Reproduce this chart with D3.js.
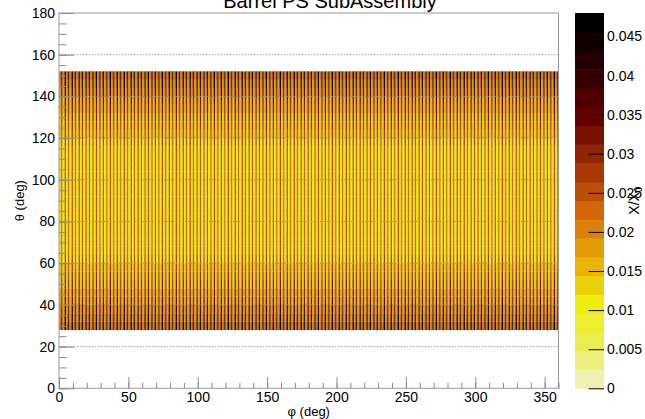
<!DOCTYPE html>
<html>
<head>
<meta charset="utf-8">
<script src="https://cdn.jsdelivr.net/npm/d3@7"></script>
<style>
  html, body { margin: 0; padding: 0; background: #fff; }
  svg { display: block; font-family: "Liberation Sans", Arial, Helvetica, sans-serif; }
</style>
</head>
<body>
<svg id="chart" width="645" height="419"></svg>
<script>
// Material budget X/X0 of the barrel PS sub-assembly versus phi and theta.

// Phi binning: 144 identical modules of 2.5 deg, three bins per module.
const phiModules = 144;
const phiModuleWidth = 2.5;
// X/X0 at theta = 90 deg across one module (three bins).
const stripeProfile = [0.0104, 0.0128, 0.0240];

// Theta binning: 4 deg bins covering 28..152 deg.
const thetaStart = 28;
const thetaBinWidth = 4;
// Path-length scale per theta bin (bin centres 30, 34, ..., 150).
const thetaScale = [
  2.00, 1.80, 1.62, 1.49, 1.39, 1.30, 1.23, 1.17, 1.12, 1.09, 1.06, 1.04, 1.02, 1.01, 1.00, 1.00,
  1.00, 1.01, 1.02, 1.04, 1.06, 1.09, 1.12, 1.17, 1.23, 1.30, 1.39, 1.49, 1.62, 1.80, 2.00
];

// Axis ticks and labels.
const xMajor = [0, 50, 100, 150, 200, 250, 300, 350];
const yMajor = [0, 20, 40, 60, 80, 100, 120, 140, 160, 180];
const yGrid = [20, 40, 60, 80, 100, 120, 140, 160];
const zTicks = [0, 0.005, 0.01, 0.015, 0.02, 0.025, 0.03, 0.035, 0.04, 0.045];
const zTickLabels = ["0", "0.005", "0.01", "0.015", "0.02", "0.025", "0.03", "0.035", "0.04", "0.045"];
const nContours = 20;

// Inverted dark-body-radiator palette stops.
const palStops = [0, 0.125, 0.25, 0.375, 0.5, 0.625, 0.75, 0.875, 1];
const palRed   = [242, 234, 237, 230, 212, 156, 99, 45, 0];
const palGreen = [243, 238, 238, 168, 101, 45, 0, 0, 0];
const palBlue  = [230, 95, 11, 8, 9, 3, 1, 1, 0];

const svg = d3.select("#chart");

const x = d3.scaleLinear().domain([0, 360]).range([59, 558.5]);
const y = d3.scaleLinear().domain([0, 180]).range([388.3, 13]);

// Build the bin table.
const phiBinWidth = phiModuleWidth / stripeProfile.length;
const cells = [];
const nPhi = phiModules * stripeProfile.length;
for (let j = 0; j < thetaScale.length; j++) {
  for (let i = 0; i < nPhi; i++) {
    cells.push({
      phi0: i * phiBinWidth,
      theta0: thetaStart + j * thetaBinWidth,
      v: stripeProfile[i % stripeProfile.length] * thetaScale[j]
    });
  }
}
const zMax = d3.max(cells, d => d.v);

const pal = d3.scaleLinear()
  .domain(palStops)
  .range(palStops.map((s, k) => d3.rgb(palRed[k], palGreen[k], palBlue[k])))
  .interpolate(d3.interpolateRgb);
const nColors = 255;
function bandColor(k) {
  const idx = Math.floor((k + 0.99) * nColors / nContours);
  return pal(Math.min(idx, nColors - 1) / (nColors - 1));
}
const band = d3.scaleQuantize().domain([0, zMax]).range(d3.range(nContours));

// Histogram cells (slight overlap hides antialiasing seams).
svg.append("g")
  .selectAll("rect")
  .data(cells)
  .join("rect")
  .attr("x", d => x(d.phi0))
  .attr("y", d => y(d.theta0 + thetaBinWidth))
  .attr("width", d => x(d.phi0 + phiBinWidth) - x(d.phi0) + 0.15)
  .attr("height", d => y(d.theta0) - y(d.theta0 + thetaBinWidth) + 0.15)
  .attr("fill", d => bandColor(band(d.v)));

// Horizontal grid lines.
svg.append("g")
  .selectAll("line")
  .data(yGrid)
  .join("line")
  .attr("x1", x(0)).attr("x2", x(360))
  .attr("y1", d => y(d)).attr("y2", d => y(d))
  .attr("stroke", "#8a8a8a")
  .attr("stroke-width", 1)
  .attr("stroke-dasharray", "1.5,1.5")
  .attr("opacity", 0.8);

// Frame.
svg.append("rect")
  .attr("x", x(0)).attr("y", y(180))
  .attr("width", x(360) - x(0)).attr("height", y(0) - y(180))
  .attr("fill", "none").attr("stroke", "#9a9a9a").attr("stroke-width", 1);

const tickColor = "#8c8c8c";
function styleAxis(g) {
  g.select(".domain").remove();
  g.selectAll(".tick line").attr("stroke", tickColor);
  g.selectAll(".tick text").attr("fill", "#000").style("font-size", "14px")
    .style("font-family", "'Liberation Sans', Arial, sans-serif");
}

// X axis.
svg.append("g").attr("transform", `translate(0,${y(0)})`)
  .call(d3.axisBottom(x).tickValues(d3.range(0, 361, 10)).tickSize(-5.6).tickFormat(""))
  .call(styleAxis);
svg.append("g").attr("transform", `translate(0,${y(0)})`)
  .call(d3.axisBottom(x).tickValues(xMajor).tickSize(-11.2).tickPadding(4).tickFormat(d3.format("d")))
  .call(styleAxis);

// Y axis.
svg.append("g").attr("transform", `translate(${x(0)},0)`)
  .call(d3.axisLeft(y).tickValues(d3.range(0, 181, 5)).tickSize(-7.5).tickFormat(""))
  .call(styleAxis);
svg.append("g").attr("transform", `translate(${x(0)},0)`)
  .call(d3.axisLeft(y).tickValues(yMajor).tickSize(-15).tickPadding(4).tickFormat(d3.format("d")))
  .call(styleAxis);

// Axis titles.
svg.append("text")
  .attr("x", (x(0) + x(360)) / 2).attr("y", 416)
  .attr("text-anchor", "middle").style("font-size", "13px")
  .text("φ (deg)");
svg.append("text")
  .attr("transform", `translate(24,${(y(0) + y(180)) / 2}) rotate(-90)`)
  .attr("text-anchor", "middle").style("font-size", "13px")
  .text("θ (deg)");

// Title.
svg.append("text")
  .attr("x", 330).attr("y", 8)
  .attr("text-anchor", "middle").style("font-size", "20px")
  .text("Barrel PS SubAssembly");

// Colour bar.
const zx0 = 575, zx1 = 604;
const z = d3.scaleLinear().domain([0, zMax]).range([388.3, 13]);
const bandEdges = d3.range(nContours + 1).map(k => k * zMax / nContours);
svg.append("g")
  .selectAll("rect")
  .data(d3.range(nContours))
  .join("rect")
  .attr("x", zx0).attr("width", zx1 - zx0)
  .attr("y", k => z(bandEdges[k + 1]))
  .attr("height", k => z(bandEdges[k]) - z(bandEdges[k + 1]) + 0.5)
  .attr("fill", k => bandColor(k));

const zAxis = svg.append("g").attr("transform", `translate(${zx1},0)`)
  .call(d3.axisRight(z).tickValues(zTicks).tickSize(-15.5).tickPadding(3)
    .tickFormat((d, i) => zTickLabels[i]));
zAxis.select(".domain").remove();
zAxis.selectAll(".tick line").attr("stroke", "#000");
zAxis.selectAll(".tick text").style("font-size", "14px").attr("fill", "#000");

// Colour bar title.
const zt = svg.append("text")
  .attr("transform", `translate(639,${(z(0) + z(zMax)) / 2}) rotate(-90)`)
  .attr("text-anchor", "middle").style("font-size", "14px");
zt.append("tspan").text("X/X");
zt.append("tspan").attr("dy", "0.3em").style("font-size", "10px").text("0");
</script>
</body>
</html>
